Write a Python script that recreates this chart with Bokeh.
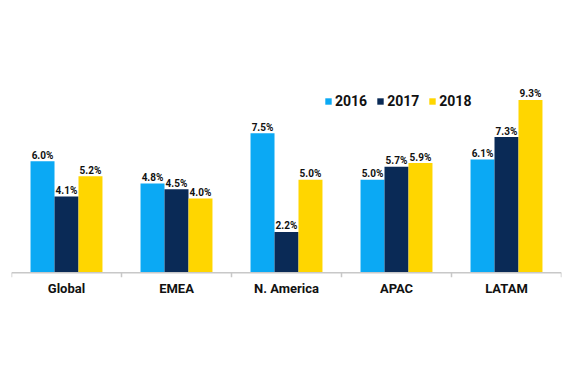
from bokeh.plotting import figure
from bokeh.models import ColumnDataSource, FixedTicker, Legend, LegendItem
from bokeh.core.properties import value
from bokeh.embed import file_html
from bokeh.resources import INLINE

regions = ["Global", "EMEA", "N. America", "APAC", "LATAM"]
years = ["2016", "2017", "2018"]
v2016 = [6.0, 4.8, 7.5, 5.0, 6.1]
v2017 = [4.1, 4.5, 2.2, 5.7, 7.3]
v2018 = [5.2, 4.0, 5.0, 5.9, 9.3]
colors = ["#0BA9F4", "#0A2A56", "#FFD600"]

FONT = "Roboto"

p = figure(width=562, height=372, output_backend="svg", toolbar_location=None,
           x_range=(0, 5), y_range=(-0.25, 13.03),
           min_border_left=11, min_border_right=1, min_border_top=30, min_border_bottom=95)
p.outline_line_color = None
p.grid.visible = False
p.yaxis.visible = False
p.background_fill_color = "white"

bw = 0.218
offsets = [-bw, 0, bw]
series = [v2016, v2017, v2018]
renderers = []
for k, (vals, off, col) in enumerate(zip(series, offsets, colors)):
    xs = [i + 0.5 + off for i in range(len(regions))]
    src = ColumnDataSource(dict(x=xs, top=vals, lab=["%.1f%%" % v for v in vals]))
    r = p.vbar(x="x", top="top", width=bw, bottom=0, fill_color=col, line_color=None, source=src)
    renderers.append(r)
    p.text(x="x", y="top", text="lab", source=src, text_align="center", text_baseline="alphabetic",
           y_offset=-6, text_font=value(FONT), text_font_style="bold", text_font_size="10px",
           text_color="#111111")

# baseline and category separators
p.segment(x0=[0], y0=[0], x1=[5], y1=[0], line_color="#c8c8c8", line_width=1.5)
p.segment(x0=list(range(6)), y0=[0] * 6, x1=list(range(6)), y1=[-0.25] * 6,
          line_color="#c8c8c8", line_width=1.5)

ax = p.xaxis[0]
ax.ticker = FixedTicker(ticks=[i + 0.5 for i in range(len(regions))])
ax.major_label_overrides = {i + 0.5: r for i, r in enumerate(regions)}
ax.axis_line_color = None
ax.major_tick_line_color = None
ax.major_tick_out = 0
ax.major_tick_in = 0
ax.minor_tick_line_color = None
ax.minor_tick_out = 0
ax.major_label_standoff = 3
ax.major_label_text_font = FONT
ax.major_label_text_font_style = "bold"
ax.major_label_text_font_size = "13px"
ax.major_label_text_color = "#111111"

legend = Legend(items=[LegendItem(label=y, renderers=[r]) for y, r in zip(years, renderers)],
                orientation="horizontal", location=(313, 166),
                glyph_width=8, glyph_height=8, label_standoff=3, spacing=9,
                padding=0, margin=0, border_line_color=None, background_fill_alpha=0,
                label_text_font=FONT, label_text_font_style="bold", label_text_font_size="14px",
                label_text_color="#111111", label_height=20)
p.add_layout(legend, "center")

open("out.html", "w").write(file_html(p, INLINE))
